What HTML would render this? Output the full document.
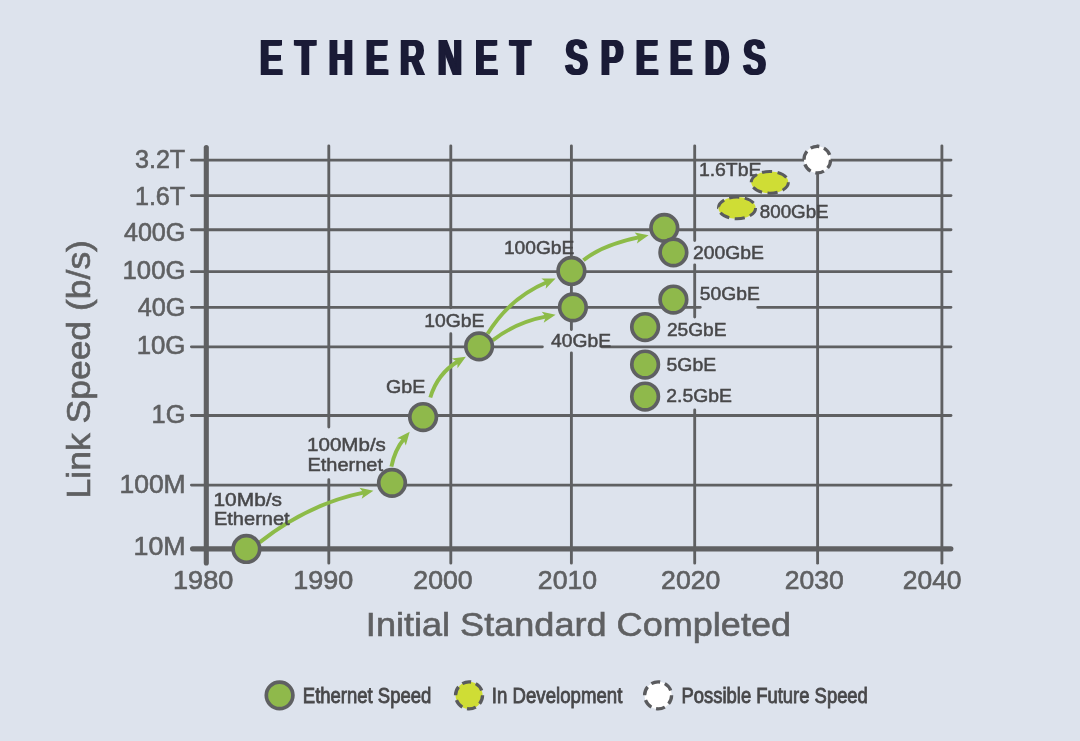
<!DOCTYPE html>
<html lang="en">
<head>
<meta charset="utf-8">
<title>Ethernet Speeds</title>
<style>
html,body{margin:0;padding:0;background:#dde3ed;}
body{width:1080px;height:741px;overflow:hidden;}
svg{display:block;}
text{font-family:"Liberation Sans",sans-serif;}
.ax{fill:#5f6062;stroke:#5f6062;stroke-width:0.6px;font-size:25.2px;}
.at{fill:#5f6062;stroke:#5f6062;stroke-width:0.6px;font-size:33.1px;}
.lb{fill:#48484a;stroke:#48484a;stroke-width:0.5px;font-size:18.6px;}
.lg{fill:#48484a;stroke:#48484a;stroke-width:0.85px;font-size:21.7px;}
.g{stroke:#5f6062;stroke-width:2.85;stroke-linecap:round;fill:none;}
.gb{stroke:#5f6062;stroke-width:5.1;stroke-linecap:round;fill:none;}
.ar{stroke:#8dbb48;stroke-width:3.9;fill:none;}
.ah{fill:#8dbb48;}
.pt{fill:#8fb94b;stroke:#5f6062;stroke-width:3.7;}
.dv{fill:#cfdd35;stroke:#5a5b5e;stroke-width:3;stroke-dasharray:6.5 3.5;}
.fu{fill:#ffffff;stroke:#5a5b5e;stroke-width:3.3;stroke-dasharray:6.5 3.5;}
#title{filter:drop-shadow(1.1px 0 0 #1a1b36) drop-shadow(-1.1px 0 0 #1a1b36);}
</style>
</head>
<body>
<svg width="1080" height="741" viewBox="0 0 1080 741">
<rect width="1080" height="741" fill="#dde3ed"/>
<g id="title" fill="#1a1b36" font-weight="bold" font-size="49.3">
<text transform="translate(0,74.5) scale(0.685,1)" x="380.3 431.3 480.8 534.7 584.8 639.7 694.5 745.3 789.1 826.0 877.8 928.9 978.5 1029.4 1085.6" y="0">ETHERNET SPEEDS</text>
</g>
<g id="chart" transform="translate(0.1,0.35)">
<g id="grid">
<path class="g" d="M191.3 159.7H950.9"/>
<path class="g" d="M191.3 195.2H950.9"/>
<path class="g" d="M191.3 229.4H950.9"/>
<path class="g" d="M191.3 271.3H950.9"/>
<path class="g" d="M191.3 307.0H700.2M757.6 307.0H950.9"/>
<path class="g" d="M191.3 346.5H542.3M601.5 346.5H950.9"/>
<path class="g" d="M191.3 415.1H950.9"/>
<path class="g" d="M191.3 484.7H950.9"/>
<path class="g" d="M328.7 145.5V426.6M328.7 479.3V562.8"/>
<path class="g" d="M450.7 145.5V307.5M450.7 333.3V562.8"/>
<path class="g" d="M571.3 145.5V329.2M571.3 352.5V562.8"/>
<path class="g" d="M694.6 145.5V240.2M694.6 264.5V316.6M694.6 409.6V562.8"/>
<path class="g" d="M817.5 145.5V562.8"/>
<path class="g" d="M941.8 145.5V562.8"/>
<path class="gb" d="M206.2 147.2V562.6"/>
<path class="gb" d="M192.4 548.5H950.8"/>
</g>
<text class="ax" x="134.82" y="167.90" textLength="50.31" lengthAdjust="spacingAndGlyphs">3.2T</text>
<text class="ax" x="134.81" y="204.70" textLength="50.31" lengthAdjust="spacingAndGlyphs">1.6T</text>
<text class="ax" x="123.82" y="240.20" textLength="61.45" lengthAdjust="spacingAndGlyphs">400G</text>
<text class="ax" x="122.47" y="278.90" textLength="62.84" lengthAdjust="spacingAndGlyphs">100G</text>
<text class="ax" x="137.62" y="315.70" textLength="47.66" lengthAdjust="spacingAndGlyphs">40G</text>
<text class="ax" x="136.57" y="353.70" textLength="48.76" lengthAdjust="spacingAndGlyphs">10G</text>
<text class="ax" x="151.50" y="423.00" textLength="33.77" lengthAdjust="spacingAndGlyphs">1G</text>
<text class="ax" x="119.42" y="492.70" textLength="66.14" lengthAdjust="spacingAndGlyphs">100M</text>
<text class="ax" x="133.49" y="554.90" textLength="52.06" lengthAdjust="spacingAndGlyphs">10M</text>
<text class="ax" x="172.86" y="589.00" textLength="60.39" lengthAdjust="spacingAndGlyphs">1980</text>
<text class="ax" x="293.28" y="589.00" textLength="59.97" lengthAdjust="spacingAndGlyphs">1990</text>
<text class="ax" x="413.22" y="589.00" textLength="59.27" lengthAdjust="spacingAndGlyphs">2000</text>
<text class="ax" x="537.72" y="589.00" textLength="59.27" lengthAdjust="spacingAndGlyphs">2010</text>
<text class="ax" x="660.97" y="589.00" textLength="59.27" lengthAdjust="spacingAndGlyphs">2020</text>
<text class="ax" x="784.72" y="589.00" textLength="59.01" lengthAdjust="spacingAndGlyphs">2030</text>
<text class="ax" x="902.73" y="589.00" textLength="58.75" lengthAdjust="spacingAndGlyphs">2040</text>
<text class="at" x="365.75" y="635.50" textLength="425.27" lengthAdjust="spacingAndGlyphs">Initial Standard Completed</text>
<text class="at" transform="translate(90.0,495.6) rotate(-90)" x="-2.54" y="0" textLength="258.43" lengthAdjust="spacingAndGlyphs">Link Speed (b/s)</text>
<g id="arrows">
<path class="ar" d="M259.5 542.0Q308.6 503.3 364.5 492.1"/><path class="ah" d="M373.3 490.3L361.6 498.4L363.5 492.3L359.4 487.4Z"/>
<path class="ar" d="M391.3 466.3Q394.5 450.0 403.9 438.4"/><path class="ah" d="M409.6 431.4L405.7 445.1L403.3 439.2L397.0 438.0Z"/>
<path class="ar" d="M430.2 397.2Q437.4 373.1 458.1 360.9"/><path class="ah" d="M465.8 356.3L457.4 367.8L457.2 361.4L451.7 358.2Z"/>
<path class="ar" d="M487.5 333.5Q509.4 297.6 547.2 281.7"/><path class="ah" d="M555.5 278.2L545.6 288.4L546.3 282.1L541.3 278.1Z"/>
<path class="ar" d="M492.5 340.0Q516.2 321.8 546.7 316.1"/><path class="ah" d="M555.5 314.5L543.6 322.4L545.7 316.3L541.6 311.4Z"/>
<path class="ar" d="M583.3 260.0Q602.4 244.4 639.7 236.8"/><path class="ah" d="M648.5 235.0L636.8 243.1L638.7 237.0L634.5 232.1Z"/>
</g>
<g id="labels">
<text class="lb" x="213.38" y="505.25" textLength="68.54" lengthAdjust="spacingAndGlyphs">10Mb/s</text>
<text class="lb" x="213.85" y="525.15" textLength="75.71" lengthAdjust="spacingAndGlyphs">Ethernet</text>
<text class="lb" x="307.01" y="450.25" textLength="78.77" lengthAdjust="spacingAndGlyphs">100Mb/s</text>
<text class="lb" x="307.35" y="470.75" textLength="75.50" lengthAdjust="spacingAndGlyphs">Ethernet</text>
<text class="lb" x="385.97" y="392.25" textLength="39.29" lengthAdjust="spacingAndGlyphs">GbE</text>
<text class="lb" x="424.10" y="326.45" textLength="60.18" lengthAdjust="spacingAndGlyphs">10GbE</text>
<text class="lb" x="503.81" y="253.95" textLength="70.46" lengthAdjust="spacingAndGlyphs">100GbE</text>
<text class="lb" x="551.01" y="346.95" textLength="59.87" lengthAdjust="spacingAndGlyphs">40GbE</text>
<text class="lb" x="692.98" y="258.65" textLength="70.89" lengthAdjust="spacingAndGlyphs">200GbE</text>
<text class="lb" x="699.78" y="299.75" textLength="60.00" lengthAdjust="spacingAndGlyphs">50GbE</text>
<text class="lb" x="666.79" y="335.75" textLength="59.58" lengthAdjust="spacingAndGlyphs">25GbE</text>
<text class="lb" x="666.47" y="371.15" textLength="49.59" lengthAdjust="spacingAndGlyphs">5GbE</text>
<text class="lb" x="666.28" y="401.45" textLength="65.56" lengthAdjust="spacingAndGlyphs">2.5GbE</text>
<text class="lb" x="698.79" y="175.25" textLength="62.58" lengthAdjust="spacingAndGlyphs">1.6TbE</text>
<text class="lb" x="759.73" y="217.25" textLength="68.82" lengthAdjust="spacingAndGlyphs">800GbE</text>
</g>
<g id="points">
<circle class="pt" cx="246.3" cy="548.6" r="13.3"/>
<circle class="pt" cx="391.9" cy="482.5" r="13.3"/>
<circle class="pt" cx="423" cy="416.7" r="13.3"/>
<circle class="pt" cx="479" cy="346" r="13.3"/>
<circle class="pt" cx="571.3" cy="270.6" r="13.3"/>
<circle class="pt" cx="572.8" cy="307" r="13.3"/>
<circle class="pt" cx="664.2" cy="227.5" r="13.3"/>
<circle class="pt" cx="673.3" cy="252" r="13.3"/>
<circle class="pt" cx="673.3" cy="299.2" r="13.3"/>
<circle class="pt" cx="645" cy="326.7" r="13.3"/>
<circle class="pt" cx="645" cy="364.2" r="13.3"/>
<circle class="pt" cx="645" cy="396.2" r="13.3"/>
<ellipse class="dv" cx="769.7" cy="182" rx="18.6" ry="10.85" pathLength="60"/>
<ellipse class="dv" cx="736.9" cy="207.6" rx="18.6" ry="10.85" pathLength="60"/>
<circle class="fu" cx="817.2" cy="159.3" r="13.3" pathLength="60"/>
</g>
<g id="legend">
<circle class="pt" cx="279.5" cy="695" r="13.3"/>
<circle class="dv" cx="468.95" cy="695" r="13.5" pathLength="60" style="stroke-width:3.3"/>
<circle class="fu" cx="658" cy="695" r="13.5" pathLength="60"/>
<text class="lg" x="302.69" y="702.18" textLength="128.57" lengthAdjust="spacingAndGlyphs">Ethernet Speed</text>
<text class="lg" x="491.75" y="702.18" textLength="130.46" lengthAdjust="spacingAndGlyphs">In Development</text>
<text class="lg" x="681.45" y="702.18" textLength="186.32" lengthAdjust="spacingAndGlyphs">Possible Future Speed</text>
</g>
</g>
</svg>
</body>
</html>
